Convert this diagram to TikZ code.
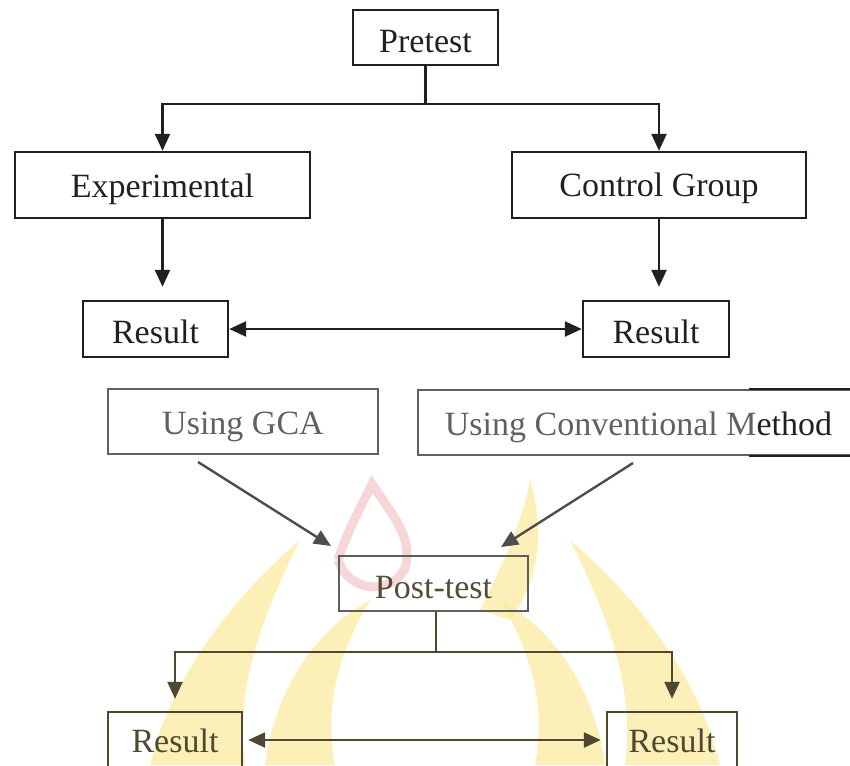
\documentclass[tikz,border=0pt]{standalone}
\usepackage{fontspec}
\setmainfont{Liberation Serif}
\usetikzlibrary{arrows.meta,positioning}
\definecolor{ink}{HTML}{231F20}
\definecolor{fade}{HTML}{606060}
\definecolor{olive}{HTML}{4E4830}
\definecolor{flame}{HTML}{FBEBA0}
\definecolor{blush}{HTML}{F4C4C8}

\begin{document}
\begin{tikzpicture}[x=1pt, y=-1pt, line width=2.4pt, ink,
    >={Triangle[length=17pt,width=15pt]},
    box/.style={draw, inner sep=0pt, text height=25pt, text depth=0pt,
                font=\fontsize{34}{40}\selectfont},
    mark flame/.style={fill=flame, draw=none, opacity=0.75}]
            \clip (0,0) rectangle (850,765);

            % faint emblem behind the lower part
            \fill[mark flame] (150,765) .. controls (170,680) and (230,600) .. (300,540) .. controls (260,620) and (235,690) .. (245,765) -- cycle;
            \fill[mark flame] (265,765) .. controls (275,690) and (315,630) .. (370,600) .. controls (335,660) and (325,710) .. (335,765) -- cycle;
            \fill[mark flame] (720,765) .. controls (700,680) and (640,600) .. (570,540) .. controls (610,620) and (635,690) .. (625,765) -- cycle;
            \fill[mark flame] (605,765) .. controls (595,690) and (555,630) .. (500,600) .. controls (535,660) and (545,710) .. (535,765) -- cycle;
            \fill[mark flame] (480,610) .. controls (500,570) and (520,530) .. (530,480) .. controls (545,530) and (540,580) .. (510,620) -- cycle;
            \draw[blush, line width=9pt, opacity=0.7] (338,560) .. controls (350,525) and (362,505) .. (372,484) .. controls (390,512) and (412,535) .. (406,565) .. controls (398,592) and (352,598) .. (338,560);

            % first part
            \node (pretest) [box, text height=31pt, minimum width=145pt, minimum height=55pt] at (425.5,37.5) {Pretest};
            \node (exper) [box, minimum width=295pt, minimum height=66pt] at (162.5,185) {Experimental};
            \node (control) [box, text height=22pt, minimum width=294pt, minimum height=66pt] at (659,185) {Control Group};
            \node (res1) [box, text height=28pt, minimum width=145pt, minimum height=56pt] at (155.5,329) {Result};
            \node (res2) [box, text height=28pt, minimum width=146pt, minimum height=56pt] at (656,329) {Result};

            \draw (pretest.south) -- ++(0,38) coordinate (fork1);
            \draw[->] (fork1) -| (exper.north);
            \draw[->] (fork1) -| (control.north);
            \draw[->, shorten >=13pt] (exper.south) -- (exper.south |- res1.north);
            \draw[->, shorten >=13pt] (control.south) -- (control.south |- res2.north);
            \draw[<->] (res1) -- (res2);

            % second part
            \node (gca) [box, draw=fade, text=fade, line width=2pt, minimum width=270pt, minimum height=65pt] at (243,421.5) {Using GCA};
            \node (conv) [box, draw=fade, line width=2pt, minimum width=441pt, minimum height=65pt] at (638.5,422.5) {\textcolor{fade}{Using Conventional M}ethod};
            \draw[line width=2pt] (conv.north) ++(110,0) -- (conv.north east);
            \draw[line width=2pt] (conv.south) ++(110,0) -- (conv.south east);
            \node (post) [box, text height=29pt, draw=fade!90!olive, text=olive!80!fade, line width=2pt, minimum width=189pt, minimum height=55pt] at (433.5,583.5) {Post-test};

            \draw[fade!80!black, ->] ([shift={(-45,7)}]gca.south) -- ([shift={(-7,-9)}]post.north west);
            \draw[fade!80!black, ->] ([shift={(-5.5,7)}]conv.south) -- ([shift={(-28,-8)}]post.north east);

            \node (res3) [box, draw=olive, text=olive, minimum width=134pt, minimum height=56pt] at (175,740) {Result};
            \node (res4) [box, draw=olive, text=olive, minimum width=130pt, minimum height=56pt] at (672,740) {Result};

            \coordinate (fork2) at (436,652);
            \draw[olive] (post.south -| fork2) -- (fork2);
            \draw[olive, ->, shorten >=12pt] (fork2) -| (res3.north);
            \draw[olive, ->, shorten >=12pt] (fork2) -| (res4.north);
            \draw[olive, <->, shorten >=5pt, shorten <=5pt] (res3) -- (res4);
\end{tikzpicture}
\end{document}
